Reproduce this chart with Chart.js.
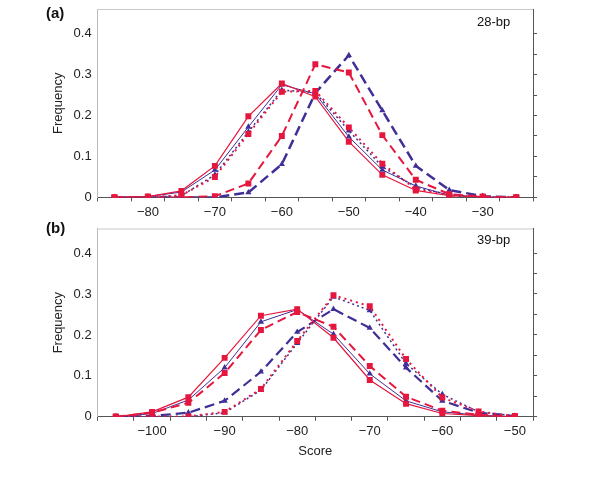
<!DOCTYPE html>
<html>
<head>
<meta charset="utf-8">
<script src="https://cdn.jsdelivr.net/npm/chart.js@4.4.1/dist/chart.umd.min.js"></script>
<style>
  html, body { margin: 0; padding: 0; background: #ffffff; }
  #wrap { position: relative; width: 600px; height: 477px; overflow: hidden; }
  #cA { position: absolute; left: 0; top: 0; }
  #cB { position: absolute; left: 0; top: 220px; }
</style>
</head>
<body>
<div id="wrap">
  <canvas id="cA" width="600" height="223"></canvas>
  <canvas id="cB" width="600" height="257"></canvas>
</div>
<script>
// ---------- Data ----------
const scoresA = [-85, -80, -75, -70, -65, -60, -55, -50, -45, -40, -35, -30, -25];
const redSolidA   = [0, 0.002, 0.016, 0.077, 0.198, 0.278, 0.246, 0.136, 0.055, 0.017, 0.004, 0.001, 0];
const blueSolidA  = [0, 0.002, 0.013, 0.067, 0.172, 0.275, 0.253, 0.148, 0.067, 0.028, 0.005, 0.001, 0];
const redDotA     = [0, 0.001, 0.005, 0.050, 0.155, 0.258, 0.260, 0.171, 0.082, 0.020, 0.005, 0.001, 0];
const blueDotA    = [0, 0.001, 0.004, 0.055, 0.160, 0.262, 0.256, 0.163, 0.075, 0.025, 0.006, 0.001, 0];
const redDashA    = [0, 0, 0, 0.003, 0.034, 0.150, 0.325, 0.305, 0.152, 0.043, 0.008, 0.002, 0];
const blueDashA   = [0, 0, 0, 0, 0.012, 0.081, 0.255, 0.347, 0.212, 0.077, 0.018, 0.003, 0];

const scoresB = [-105, -100, -95, -90, -85, -80, -75, -70, -65, -60, -55, -50];
const redSolidB   = [0, 0.012, 0.048, 0.144, 0.247, 0.263, 0.193, 0.090, 0.032, 0.008, 0.003, 0];
const blueSolidB  = [0, 0.008, 0.041, 0.120, 0.232, 0.262, 0.202, 0.105, 0.039, 0.012, 0.004, 0];
const redDashB    = [0, 0.010, 0.034, 0.107, 0.212, 0.256, 0.220, 0.124, 0.049, 0.015, 0.005, 0];
const blueDashB   = [0, 0.002, 0.010, 0.039, 0.110, 0.207, 0.263, 0.217, 0.120, 0.039, 0.010, 0.002];
const redDotB     = [0, 0.001, 0.001, 0.012, 0.068, 0.185, 0.297, 0.270, 0.141, 0.047, 0.013, 0.002];
const blueDotB    = [0, 0, 0, 0.010, 0.065, 0.180, 0.293, 0.260, 0.130, 0.055, 0.012, 0.002];

const yTicksMain = [0, 0.1, 0.2, 0.3, 0.4];
const yTicksMinor = [0, 0.05, 0.1, 0.15, 0.2, 0.25, 0.3, 0.35, 0.4];
const Y_MAX = 0.46;

// ---------- Styling ----------
const RED = '#e5173e';
const BLUE = '#3f2f96';
const FONT = "'Liberation Sans', Arial, sans-serif";

function ds(data, color, kind, width, dash) {
  return {
    data: data,
    borderColor: color,
    backgroundColor: color,
    borderWidth: width,
    borderDash: dash,
    pointStyle: kind === 'sq' ? 'rect' : 'triangle',
    pointRadius: kind === 'sq' ? 4.2 : 3.6,
    pointBorderWidth: 0,
    pointBackgroundColor: color,
    tension: 0,
    fill: false
  };
}

function minusLabel(v) {
  return v < 0 ? '\u2212' + Math.abs(v) : String(v);
}

const panelText = {
  id: 'panelText',
  afterDraw(chart, args, opts) {
    const ctx = chart.ctx;
    ctx.save();
    ctx.fillStyle = '#111';
    ctx.textBaseline = 'middle';
    ctx.textAlign = 'left';
    ctx.font = "bold 15px " + FONT;
    ctx.fillText(opts.tag, 46, opts.tagY);
    ctx.font = "13px " + FONT;
    ctx.fillText(opts.note, 477, opts.noteY);
    // top border (light grey)
    const a = chart.chartArea;
    ctx.strokeStyle = '#c8c8c8';
    ctx.lineWidth = 1;
    ctx.beginPath();
    ctx.moveTo(a.left, a.top + 0.5);
    ctx.lineTo(a.right, a.top + 0.5);
    ctx.stroke();
    ctx.restore();
  }
};

function makeChart(canvasId, scores, datasets, opts) {
  return new Chart(document.getElementById(canvasId), {
    type: 'line',
    data: {
      labels: scores,
      datasets: datasets
    },
    options: {
      responsive: false,
      animation: false,
      layout: { padding: opts.padding },
      plugins: {
        legend: { display: false },
        tooltip: { enabled: false },
        panelText: { tag: opts.tag, tagY: opts.tagY, note: opts.note, noteY: opts.noteY }
      },
      scales: {
        x: {
          type: 'category',
          offset: true,
          grid: {
            offset: true,
            drawOnChartArea: false,
            drawTicks: true,
            tickLength: 4,
            color: '#555'
          },
          border: { display: true, color: '#555', width: 1 },
          ticks: {
            autoSkip: false,
            maxRotation: 0,
            padding: 3,
            color: '#222',
            font: { family: FONT, size: 13 },
            callback: function (val, index) {
              const v = scores[index];
              return v % 10 === 0 ? minusLabel(v) : '';
            }
          },
          title: {
            display: opts.xTitle,
            text: 'Score',
            color: '#222',
            font: { family: FONT, size: 13 },
            padding: { top: 1, bottom: 0 }
          }
        },
        y: {
          position: 'left',
          min: 0,
          max: Y_MAX,
          afterBuildTicks: function (scale) {
            scale.ticks = yTicksMain.map(v => ({ value: v }));
          },
          grid: { display: true, drawOnChartArea: false, drawTicks: true, tickLength: 4, color: 'rgba(0,0,0,0)' },
          border: { display: true, color: '#bdbdbd', width: 1 },
          ticks: {
            padding: 2,
            color: '#222',
            font: { family: FONT, size: 13, lineHeight: 1 },
            callback: function (v) { return v === 0 ? '0' : v.toFixed(1); }
          },
          title: {
            display: true,
            text: 'Frequency',
            color: '#222',
            font: { family: FONT, size: 13 },
            padding: { top: 0, bottom: 5 }
          }
        },
        yR: {
          position: 'right',
          min: 0,
          max: Y_MAX,
          afterBuildTicks: function (scale) {
            scale.ticks = yTicksMinor.map(v => ({ value: v }));
          },
          grid: { drawOnChartArea: false, drawTicks: true, tickLength: 4, color: '#555' },
          border: { display: true, color: '#555', width: 1 },
          ticks: { display: false }
        }
      }
    },
    plugins: [panelText]
  });
}

makeChart('cA', scoresA, [
  ds(redSolidA, RED, 'sq', 1.2, []),
  ds(redDotA, RED, 'sq', 2, [2, 4]),
  ds(redDashA, RED, 'sq', 2, [9, 5]),
  ds(blueSolidA, BLUE, 'tri', 1, []),
  ds(blueDotA, BLUE, 'tri', 1.5, [2, 3]),
  ds(blueDashA, BLUE, 'tri', 2.5, [10, 5])
], { padding: { left: 51, right: 63, top: 9, bottom: 0 }, tag: '(a)', tagY: 14, note: '28-bp', noteY: 22, xTitle: false });

makeChart('cB', scoresB, [
  ds(redSolidB, RED, 'sq', 1.2, []),
  ds(redDashB, RED, 'sq', 2, [9, 5]),
  ds(redDotB, RED, 'sq', 2, [2, 4]),
  ds(blueSolidB, BLUE, 'tri', 1, []),
  ds(blueDashB, BLUE, 'tri', 2.2, [10, 5]),
  ds(blueDotB, BLUE, 'tri', 1.5, [2, 3])
], { padding: { left: 51, right: 63, top: 8, bottom: 18 }, tag: '(b)', tagY: 9, note: '39-bp', noteY: 20, xTitle: true });
</script>
</body>
</html>
